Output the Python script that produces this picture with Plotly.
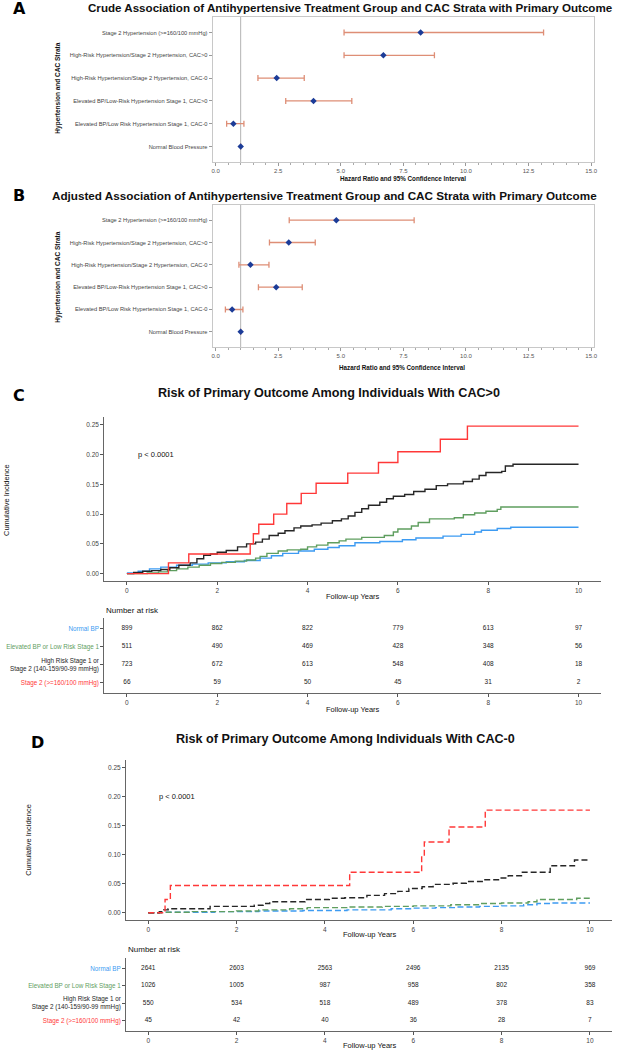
import plotly.graph_objects as go

W, H = 619, 1050
FONT = "Liberation Sans, Arial, sans-serif"

# ---- forest plots (panels A and B) ----
FOREST_LABELS = [
    "Stage 2 Hypertension (>=160/100 mmHg)",
    "High-Risk Hypertension/Stage 2 Hypertension, CAC>0",
    "High-Risk Hypertension/Stage 2 Hypertension, CAC-0",
    "Elevated BP/Low-Risk Hypertension Stage 1, CAC>0",
    "Elevated BP/Low Risk Hypertension Stage 1, CAC-0",
    "Normal Blood Pressure",
]
CRUDE_HR = [8.19, 6.70, 2.44, 3.91, 0.71, 1.0]
CRUDE_LO = [5.13, 5.13, 1.69, 2.80, 0.44, None]
CRUDE_HI = [13.1, 8.74, 3.54, 5.44, 1.13, None]
ADJ_HR = [4.82, 2.92, 1.39, 2.42, 0.66, 1.0]
ADJ_LO = [2.94, 2.15, 0.93, 1.71, 0.39, None]
ADJ_HI = [7.93, 3.98, 2.13, 3.46, 1.09, None]
REF_HR = 1.0
HR_TICKS = [0, 2.5, 5, 7.5, 10, 12.5, 15]

# ---- cumulative incidence, CAC>0 (panel C) ----
C_STAGE2_T = [0, 0.92, 1.37, 2.73, 2.80, 2.92, 3.25, 3.54, 3.86, 4.19, 4.89, 5.57, 6.00, 6.94, 7.54, 10]
C_STAGE2_V = [0, 0.018, 0.033, 0.050, 0.067, 0.083, 0.100, 0.118, 0.135, 0.152, 0.169, 0.187, 0.205, 0.226, 0.248, 0.248]
C_HIGH_T = [0, 0.15, 0.35, 0.55, 0.75, 0.95, 1.15, 1.40, 1.55, 1.70, 1.85, 2.00, 2.20, 2.45, 2.65, 2.85,
            3.00, 3.15, 3.35, 3.50, 3.70, 3.85, 4.10, 4.30, 4.55, 4.75, 4.90, 5.05, 5.20, 5.35, 5.60,
            5.75, 5.90, 6.15, 6.35, 6.60, 6.85, 7.10, 7.45, 7.65, 7.80, 7.95, 8.30, 8.38, 8.55, 10]
C_HIGH_V = [0, 0.002, 0.004, 0.005, 0.007, 0.010, 0.014, 0.018, 0.025, 0.031, 0.033, 0.036, 0.039, 0.045,
            0.050, 0.053, 0.058, 0.064, 0.068, 0.072, 0.077, 0.080, 0.082, 0.085, 0.089, 0.092, 0.097,
            0.103, 0.109, 0.115, 0.120, 0.126, 0.130, 0.133, 0.138, 0.142, 0.148, 0.151, 0.155, 0.159,
            0.165, 0.170, 0.172, 0.181, 0.184, 0.184]
C_ELEV_T = [0, 0.45, 0.70, 0.90, 1.10, 1.35, 1.60, 1.85, 2.10, 2.40, 2.65, 2.85, 2.95, 3.10, 3.35, 3.55,
            3.85, 4.00, 4.20, 4.45, 4.70, 4.85, 5.20, 5.70, 5.90, 6.00, 6.30, 6.45, 6.70, 7.25, 7.45,
            7.70, 7.95, 8.20, 8.28, 10]
C_ELEV_V = [0, 0.001, 0.003, 0.005, 0.008, 0.011, 0.014, 0.017, 0.019, 0.021, 0.023, 0.026, 0.029, 0.034,
            0.038, 0.040, 0.041, 0.045, 0.048, 0.052, 0.055, 0.058, 0.061, 0.064, 0.070, 0.075, 0.080,
            0.086, 0.092, 0.094, 0.099, 0.102, 0.105, 0.108, 0.112, 0.112]
C_NORM_T = [0, 0.25, 0.50, 0.75, 1.10, 1.45, 1.80, 2.20, 2.60, 2.95, 3.20, 3.45, 3.80, 4.15, 4.45, 4.70,
            5.05, 5.60, 6.10, 6.40, 7.00, 7.40, 7.70, 7.85, 8.20, 8.50, 10]
C_NORM_V = [0.001, 0.004, 0.008, 0.011, 0.014, 0.016, 0.018, 0.020, 0.022, 0.026, 0.030, 0.034, 0.038,
            0.041, 0.044, 0.047, 0.052, 0.054, 0.057, 0.060, 0.063, 0.066, 0.070, 0.073, 0.076, 0.078, 0.078]

# ---- cumulative incidence, CAC-0 (panel D) ----
D_STAGE2_T = [0, 0.38, 0.50, 4.56, 6.19, 6.25, 6.81, 7.63, 10]
D_STAGE2_V = [0, 0.023, 0.047, 0.070, 0.098, 0.122, 0.148, 0.177, 0.177]
D_HIGH_T = [0, 0.25, 0.35, 0.45, 1.40, 2.40, 2.60, 2.75, 3.55, 4.10, 4.45, 4.95, 5.35, 5.65, 5.90, 6.20,
            6.45, 6.90, 7.20, 7.60, 7.95, 8.15, 8.45, 9.10, 9.65, 10]
D_HIGH_V = [0, 0.002, 0.005, 0.007, 0.011, 0.013, 0.016, 0.019, 0.023, 0.025, 0.026, 0.030, 0.033, 0.037,
            0.042, 0.045, 0.049, 0.051, 0.054, 0.057, 0.060, 0.064, 0.070, 0.081, 0.091, 0.091]
D_ELEV_T = [0, 0.30, 1.00, 2.00, 2.50, 3.20, 3.60, 4.50, 5.30, 6.00, 6.85, 7.50, 8.00, 8.60, 8.80, 9.70, 10]
D_ELEV_V = [0, 0.001, 0.002, 0.003, 0.005, 0.007, 0.009, 0.010, 0.011, 0.012, 0.014, 0.016, 0.017, 0.019,
            0.023, 0.025, 0.025]
D_NORM_T = [0, 0.30, 1.50, 2.50, 3.50, 4.50, 5.50, 6.00, 6.50, 7.00, 7.50, 8.00, 8.50, 8.80, 9.10, 10]
D_NORM_V = [0, 0.001, 0.002, 0.003, 0.004, 0.005, 0.007, 0.008, 0.009, 0.010, 0.011, 0.012, 0.014, 0.016,
            0.017, 0.017]

# ---- number at risk tables ----
YEARS = [0, 2, 4, 6, 8, 10]
GROUPS = ["Normal BP", "Elevated BP or Low Risk Stage 1",
          "High Risk Stage 1 or<br>Stage 2 (140-159/90-99 mmHg)", "Stage 2 (>=160/100 mmHg)"]
C_RISK = [
    [899, 862, 822, 779, 613, 97],
    [511, 490, 469, 428, 348, 56],
    [723, 672, 613, 548, 408, 18],
    [66, 59, 50, 45, 31, 2],
]
D_RISK = [
    [2641, 2603, 2563, 2496, 2135, 969],
    [1026, 1005, 987, 958, 802, 358],
    [550, 534, 518, 489, 378, 83],
    [45, 42, 40, 36, 28, 7],
]

BLUE = "#3d9bf2"
GREEN = "#5f9e5f"
BLACK = "#262626"
RED = "#ff3838"
GROUP_COLORS = [BLUE, GREEN, BLACK, RED]
NAVY = "#1c3c98"
SALMON = "#de8e76"


def px(x):
    return x / W


def py(y):
    return 1 - y / H


fig = go.Figure()


def forest(hr, lo, hi, xa, ya):
    plus = [None if h is None else h - v for v, h in zip(hr, hi)]
    minus = [None if l is None else v - l for v, l in zip(hr, lo)]
    fig.add_trace(go.Scatter(
        x=hr, y=FOREST_LABELS, mode="markers", xaxis=xa, yaxis=ya,
        marker=dict(symbol="diamond", size=5, color=NAVY),
        error_x=dict(type="data", symmetric=False, array=plus, arrayminus=minus,
                     color=SALMON, thickness=1.3, width=3),
    ))
    fig.add_shape(type="line", xref=xa, yref=ya + " domain", x0=REF_HR, x1=REF_HR, y0=0, y1=1,
                  line=dict(color="#b4b4b4", width=1), layer="below")


forest(CRUDE_HR, CRUDE_LO, CRUDE_HI, "x", "y")
forest(ADJ_HR, ADJ_LO, ADJ_HI, "x2", "y2")


def curves(series, xa, ya, dash):
    for (t, v), color in zip(series, GROUP_COLORS):
        fig.add_trace(go.Scatter(
            x=t, y=v, mode="lines", line_shape="hv", xaxis=xa, yaxis=ya,
            line=dict(color=color, width=1.4, dash=dash),
        ))


curves([(C_NORM_T, C_NORM_V), (C_ELEV_T, C_ELEV_V), (C_HIGH_T, C_HIGH_V), (C_STAGE2_T, C_STAGE2_V)],
       "x3", "y3", "solid")
curves([(D_NORM_T, D_NORM_V), (D_ELEV_T, D_ELEV_V), (D_HIGH_T, D_HIGH_V), (D_STAGE2_T, D_STAGE2_V)],
       "x5", "y5", "6px,3px")


def risk_table(rows, xa, ya):
    for name, counts in zip(GROUPS, rows):
        fig.add_trace(go.Scatter(
            x=YEARS, y=[name] * len(YEARS), text=[str(c) for c in counts], mode="text",
            xaxis=xa, yaxis=ya, textfont=dict(size=6.5, color="#222", family=FONT),
        ))


risk_table(C_RISK, "x4", "y4")
risk_table(D_RISK, "x6", "y6")

forest_x = dict(
    range=[-0.12, 15.12], tickvals=HR_TICKS, tickformat=".1f", ticks="outside", ticklen=3,
    tickcolor="#999", showline=True, linecolor="#c8c8c8", mirror=True, showgrid=False,
    zeroline=False, tickfont=dict(size=6, color="#555"),
    minor=dict(dtick=0.5, ticks="outside", ticklen=2, tickcolor="#aaa"),
)
forest_y = dict(
    type="category", categoryorder="array", categoryarray=FOREST_LABELS, range=[5.68, -0.68],
    ticks="outside", ticklen=3, tickcolor="#999", showline=True, linecolor="#c8c8c8", mirror=True,
    showgrid=False, tickfont=dict(size=5.7, color="#444"),
)
km_x = dict(
    range=[-0.5, 10.5], tickvals=YEARS, ticks="outside", ticklen=3, tickcolor="#555",
    showline=True, linecolor="#666", linewidth=1.3, showgrid=False, zeroline=False,
    tickfont=dict(size=6.5, color="#444"),
)
km_y = dict(
    range=[-0.0124, 0.2634], dtick=0.05, tick0=0, tickformat=".2f", ticks="outside", ticklen=3,
    tickcolor="#555", showline=True, linecolor="#666", linewidth=1.3, showgrid=False,
    zeroline=False, tickfont=dict(size=6.5, color="#444"),
)
group_ticks = ["<span style='color:%s'>%s</span>" % (c, g) for c, g in zip(GROUP_COLORS, GROUPS)]
table_y = dict(
    type="category", categoryorder="array", categoryarray=GROUPS, range=[3.6, -0.6],
    tickmode="array", tickvals=GROUPS, ticktext=group_ticks, ticks="outside", ticklen=3,
    tickcolor="#555", showline=True, linecolor="#666", linewidth=1.3, showgrid=False,
    tickfont=dict(size=6.3),
)

fig.update_layout(
    width=W, height=H, margin=dict(l=0, r=0, t=0, b=0),
    paper_bgcolor="white", plot_bgcolor="white", showlegend=False,
    font=dict(family=FONT, color="#222"),
    xaxis=dict(forest_x, domain=[px(213), px(597)], anchor="y"),
    yaxis=dict(forest_y, domain=[py(162), py(17)], anchor="x"),
    xaxis2=dict(forest_x, domain=[px(213), px(597)], anchor="y2"),
    yaxis2=dict(forest_y, domain=[py(347), py(205)], anchor="x2"),
    xaxis3=dict(km_x, domain=[px(104), px(604)], anchor="y3"),
    yaxis3=dict(km_y, domain=[py(581), py(417)], anchor="x3"),
    xaxis4=dict(km_x, domain=[px(104), px(604)], anchor="y4"),
    yaxis4=dict(table_y, domain=[py(693), py(618)], anchor="x4"),
    xaxis5=dict(km_x, domain=[px(126), px(615)], anchor="y5"),
    yaxis5=dict(km_y, domain=[py(920), py(760)], anchor="x5"),
    xaxis6=dict(km_x, domain=[px(126), px(615)], anchor="y6"),
    yaxis6=dict(table_y, domain=[py(1031), py(958)], anchor="x6"),
)


def note(text, x, y, size, bold=False, angle=0, xanchor="center", xref="paper", yref="paper",
         family=FONT, color="#111"):
    fig.add_annotation(
        text="<b>%s</b>" % text if bold else text, x=x, y=y, xref=xref, yref=yref,
        xanchor=xanchor, yanchor="middle", showarrow=False, textangle=angle,
        font=dict(size=size, family=family, color=color),
    )


LETTER_FONT = "DejaVu Sans, Liberation Sans, sans-serif"
note("A", px(19), py(8), 16, bold=True, family=LETTER_FONT, color="#000")
note("Crude Association of Antihypertensive Treatment Group and CAC Strata with Primary Outcome",
     px(352), py(7), 11.6, bold=True)
note("Hazard Ratio and 95% Confidence Interval", px(405), py(178), 6.3, bold=True)
note("Hypertension and CAC Strata", px(57), py(88), 6.5, bold=True, angle=-90)

note("B", px(18), py(195), 16, bold=True, family=LETTER_FONT, color="#000")
note("Adjusted Association of Antihypertensive Treatment Group and CAC Strata with Primary Outcome",
     px(326), py(195), 11.7, bold=True)
note("Hazard Ratio and 95% Confidence Interval", px(404), py(367), 6.3, bold=True)
note("Hypertension and CAC Strata", px(57), py(277), 6.5, bold=True, angle=-90)

note("C", px(18), py(395), 16, bold=True, family=LETTER_FONT, color="#000")
note("Risk of Primary Outcome Among Individuals With CAC>0", px(330), py(393), 12.6, bold=True)
note("Cumulative Incidence", px(5), py(500), 7.5, angle=-90)
note("Follow-up Years", px(354), py(596), 7.5)
note("p < 0.0001", 0.2, 0.2, 7.5, xanchor="left", xref="x3", yref="y3")
note("Number at risk", px(104), py(610), 8, xanchor="left")
note("Follow-up Years", px(354), py(709), 7.5)

note("D", px(37), py(742), 16, bold=True, family=LETTER_FONT, color="#000")
note("Risk of Primary Outcome Among Individuals With CAC-0", px(347), py(739), 12.6, bold=True)
note("Cumulative Incidence", px(27), py(840), 7.5, angle=-90)
note("Follow-up Years", px(371), py(935), 7.5)
note("p < 0.0001", 0.2, 0.2, 7.5, xanchor="left", xref="x5", yref="y5")
note("Number at risk", px(126), py(949), 8, xanchor="left")
note("Follow-up Years", px(371), py(1045), 7.5)

# the page's default body margin would push the whole figure 8px down and right
fig.write_html("out.html", config={"displayModeBar": False},
               post_script="document.body.style.margin = '0';")
